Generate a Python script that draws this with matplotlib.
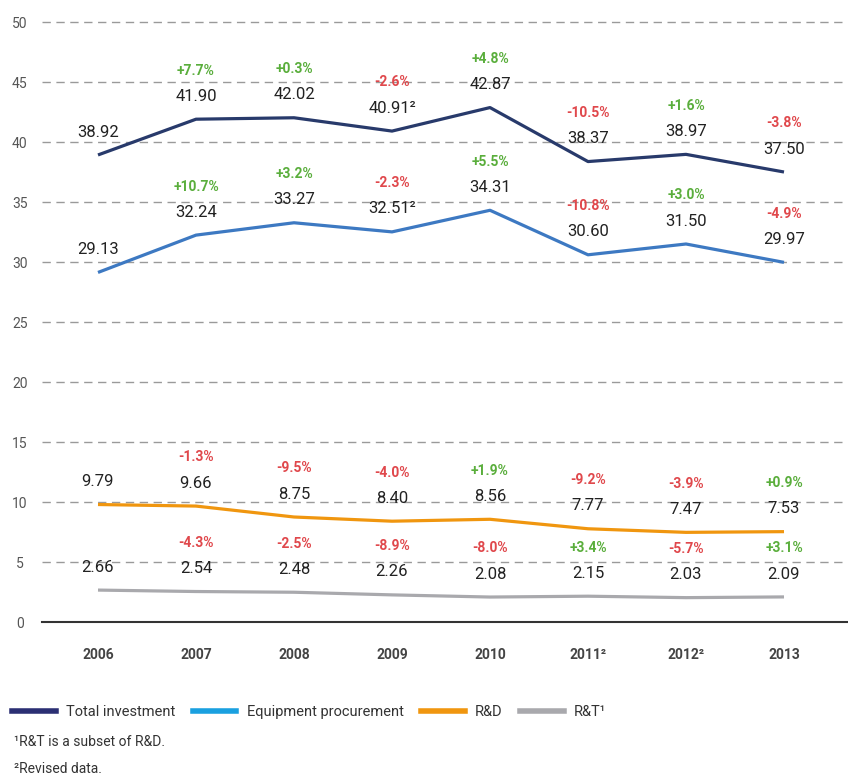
import matplotlib
matplotlib.use("Agg")
import matplotlib.pyplot as plt
from matplotlib.lines import Line2D

plt.rcParams['font.family'] = ['Roboto', 'DejaVu Sans']

years = ['2006', '2007', '2008', '2009', '2010', '2011²', '2012²', '2013']
total = [38.92, 41.90, 42.02, 40.91, 42.87, 38.37, 38.97, 37.50]
total_lbl = ['38.92', '41.90', '42.02', '40.91²', '42.87', '38.37', '38.97', '37.50']
total_pct = [None, '+7.7%', '+0.3%', '-2.6%', '+4.8%', '-10.5%', '+1.6%', '-3.8%']
equip = [29.13, 32.24, 33.27, 32.51, 34.31, 30.60, 31.50, 29.97]
equip_lbl = ['29.13', '32.24', '33.27', '32.51²', '34.31', '30.60', '31.50', '29.97']
equip_pct = [None, '+10.7%', '+3.2%', '-2.3%', '+5.5%', '-10.8%', '+3.0%', '-4.9%']
rd = [9.79, 9.66, 8.75, 8.40, 8.56, 7.77, 7.47, 7.53]
rd_pct = [None, '-1.3%', '-9.5%', '-4.0%', '+1.9%', '-9.2%', '-3.9%', '+0.9%']
rt = [2.66, 2.54, 2.48, 2.26, 2.08, 2.15, 2.03, 2.09]
rt_pct = [None, '-4.3%', '-2.5%', '-8.9%', '-8.0%', '+3.4%', '-5.7%', '+3.1%']
yticks = [0, 5, 10, 15, 20, 25, 30, 35, 40, 45, 50]

series_names = ['Total investment', 'Equipment procurement', 'R&D', 'R&T¹']
line_colors = ['#283a6b', '#3d79c2', '#f0960f', '#a9a9ad']
legend_colors = ['#2b2f73', '#1aa0e0', '#f0960f', '#a9a9ad']
GREEN = '#5aae3c'
RED = '#e0484c'

W, H = 848, 781
fig = plt.figure(figsize=(W / 100, H / 100), dpi=100)
ax = fig.add_axes([42 / W, 1 - 622 / H, (W - 42) / W, 600 / H])

x = list(range(len(years)))
series = [(total, total_lbl, total_pct), (equip, equip_lbl, equip_pct),
          (rd, [f'{v:.2f}' for v in rd], rd_pct), (rt, [f'{v:.2f}' for v in rt], rt_pct)]

for (vals, lbls, pcts), c in zip(series, line_colors):
    ax.plot(x, vals, color=c, lw=2.3, solid_capstyle='butt', zorder=3)
    for xi, v, lb, p in zip(x, vals, lbls, pcts):
        ax.annotate(lb, (xi, v), xytext=(0, 16.5), textcoords='offset points',
                    ha='center', va='center', fontsize=12, color='#222222', zorder=4)
        if p:
            ax.annotate(p, (xi, v), xytext=(0, 35), textcoords='offset points',
                        ha='center', va='center', fontsize=10, fontweight='bold',
                        color=GREEN if p.startswith('+') else RED, zorder=4)

ax.set_xlim(-56 / 98, 7 + 64 / 98)
ax.set_ylim(0, 50)
ax.set_yticks(yticks)
ax.set_yticklabels([str(t) for t in yticks])
ax.set_xticks(x)
ax.set_xticklabels(years, fontweight='bold', color='#444444', fontsize=10)
ax.tick_params(axis='x', length=0, pad=19)
ax.tick_params(axis='y', length=0, labelcolor='#555555', labelsize=10, pad=16)
for lab in ax.get_yticklabels():
    lab.set_horizontalalignment('center')
for t in yticks[1:]:
    ax.axhline(t, color='#9a9a9a', lw=1.0, ls=(0, (6, 4)), zorder=1, clip_on=False)
for s in ['top', 'right', 'left']:
    ax.spines[s].set_visible(False)
ax.spines['bottom'].set_color('#333333')
ax.spines['bottom'].set_linewidth(1.5)

handles = [Line2D([0], [0], color=c, lw=4) for c in legend_colors]
fig.legend(handles, series_names, ncol=4, loc='center left',
           bbox_to_anchor=(12 / W, 1 - 712 / H), frameon=False, handlelength=3.0,
           columnspacing=1.2, handletextpad=0.7, fontsize=10.5,
           labelcolor='#333333', borderaxespad=0, borderpad=0)

fig.text(14 / W, 1 - 742 / H, '¹R&T is a subset of R&D.', fontsize=10,
         color='#333333', va='center', ha='left')
fig.text(14 / W, 1 - 769 / H, '²Revised data.', fontsize=10,
         color='#333333', va='center', ha='left')

fig.savefig('out.png', dpi=100, facecolor='white')
